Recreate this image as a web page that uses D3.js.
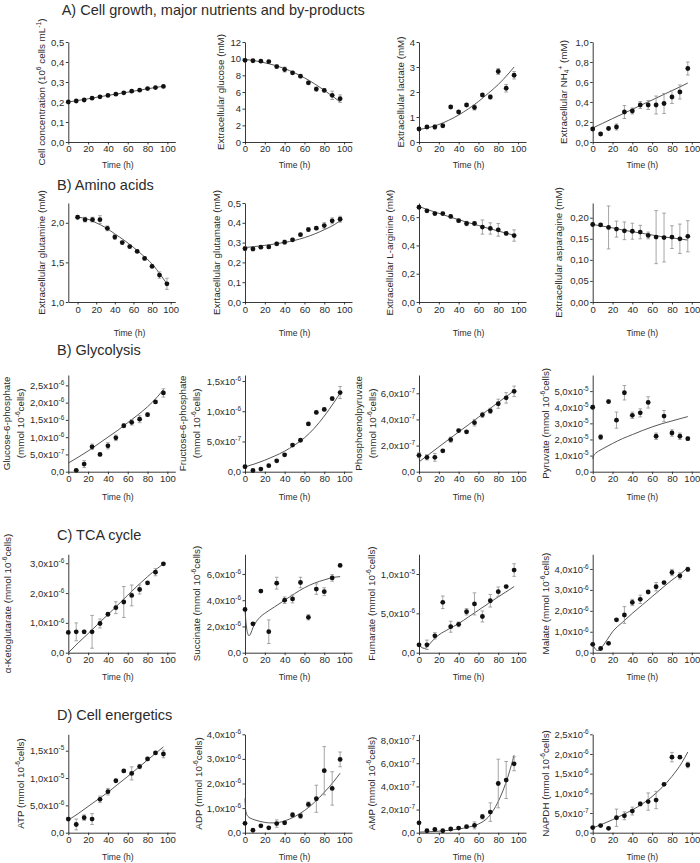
<!DOCTYPE html>
<html><head><meta charset="utf-8">
<script src="https://cdn.jsdelivr.net/npm/d3@7"></script>
<style>
body{margin:0;background:#fff;}
svg{display:block;font-family:"Liberation Sans",Arial,sans-serif;background:#fff;}
</style></head><body>
<svg id="c" width="700" height="863"></svg>
<script>
// ---------- data ----------
const time = [0,8,16,24,32,40,48,56,64,72,80,88,96];
const xTicks = [0,20,40,60,80,100];
const fitTime = [0,10,20,30,40,50,60,70,80,90,96];

// A) Cell growth, major nutrients and by-products
const cellConc = [0.200,0.205,0.210,0.219,0.226,0.233,0.239,0.246,0.254,0.259,0.267,0.272,0.278];
const cellConcErr = [0.003,0.003,0.003,0.003,0.003,0.003,0.003,0.003,0.003,0.003,0.003,0.003,0.003];
const cellConcFit = [0.200,0.208,0.216,0.225,0.233,0.241,0.249,0.258,0.266,0.274,0.279];
const cellTicks = [0,0.1,0.2,0.3,0.4,0.5];

const glucose = [9.8,9.75,9.7,9.65,9.05,8.7,8.3,7.9,7.1,6.35,6.2,5.6,5.2];
const glucoseErr = [0.15,0.1,0.1,0.1,0.2,0.3,0.2,0.2,0.2,0.25,0.2,0.5,0.45];
const glucoseFit = [9.9,9.75,9.5,9.2,8.8,8.3,7.7,7.0,6.2,5.35,4.8];
const glucoseTicks = [0,2,4,6,8,10,12];

const lactate = [0.52,0.6,0.6,0.65,1.4,1.2,1.48,1.38,1.88,1.8,2.82,2.15,2.67];
const lactateErr = [0.05,0.05,0.08,0.05,0.06,0.05,0.06,0.1,0.06,0.08,0.12,0.15,0.15];
const lactateFit = [0.5,0.58,0.7,0.87,1.08,1.33,1.62,1.95,2.3,2.72,3.0];
const lactateTicks = [0,1,2,3,4];

const nh4 = [0.13,0.08,0.135,0.15,0.30,0.31,0.37,0.37,0.37,0.385,0.45,0.50,0.735];
const nh4Err = [0.01,0.01,0.01,0.03,0.065,0.03,0.035,0.045,0.09,0.1,0.065,0.07,0.065];
const nh4Fit = [0.14,0.187,0.234,0.28,0.327,0.374,0.42,0.467,0.514,0.56,0.59];
const nh4Ticks = [0,0.2,0.4,0.6,0.8,1.0];

// B) Amino acids
const glutamine = [2.07,2.04,2.04,2.04,1.93,1.82,1.75,1.70,1.64,1.55,1.45,1.34,1.23];
const glutamineErr = [0.02,0.03,0.03,0.05,0.03,0.03,0.02,0.02,0.02,0.02,0.02,0.04,0.07];
const glutamineFit = [2.07,2.05,2.0,1.94,1.86,1.78,1.69,1.59,1.48,1.33,1.23];
const glutamineTicks = [1.0,1.5,2.0];

const glutamate = [0.27,0.268,0.277,0.278,0.294,0.302,0.314,0.340,0.366,0.373,0.386,0.41,0.418];
const glutamateErr = [0.01,0.01,0.008,0.008,0.008,0.01,0.008,0.006,0.01,0.008,0.015,0.015,0.015];
const glutamateFit = [0.275,0.28,0.286,0.293,0.301,0.311,0.325,0.343,0.365,0.39,0.41];
const glutamateTicks = [0,0.1,0.2,0.3,0.4,0.5];

const arginine = [0.67,0.645,0.625,0.625,0.605,0.575,0.555,0.555,0.53,0.52,0.51,0.485,0.47];
const arginineErr = [0.01,0.01,0.01,0.01,0.01,0.01,0.015,0.01,0.05,0.04,0.045,0.01,0.04];
const arginineFit = [0.675,0.65,0.627,0.604,0.582,0.561,0.541,0.521,0.502,0.483,0.472];
const arginineTicks = [0,0.2,0.4,0.6];

const asparagine = [0.184,0.183,0.177,0.173,0.169,0.168,0.166,0.158,0.154,0.153,0.154,0.150,0.156];
const asparagineErr = [0.003,0.003,0.051,0.019,0.021,0.019,0.016,0.008,0.063,0.058,0.027,0.035,0.037];
const asparagineFit = [0.184,0.18,0.176,0.171,0.167,0.163,0.159,0.155,0.152,0.149,0.147];
const asparagineTicks = [0,0.05,0.10,0.15,0.20];

// Glycolysis (mantissas, unit given per panel)
const g6p = [null,0.04,0.22,0.72,0.5,0.75,0.98,1.33,1.43,1.52,1.65,2.02,2.28];       // x1e-6
const g6pErr = [0,0.03,0.1,0.08,0.04,0.09,0.08,0.05,0.08,0.1,0.05,0.04,0.12];
const g6pFit = [0.25,0.42,0.6,0.8,1.0,1.2,1.42,1.64,1.88,2.17,2.38];
const g6pTicks = [0,0.5,1,1.5,2,2.5];

const f6p = [0.083,0.02,0.044,0.1,0.18,0.28,0.44,0.52,0.79,0.98,1.03,1.21,1.31];     // x1e-6
const f6pErr = [0.02,0.01,0.01,0.01,0.01,0.02,0.02,0.02,0.02,0.02,0.02,0.03,0.1];
const f6pFit = [0.08,0.13,0.19,0.26,0.34,0.44,0.56,0.72,0.92,1.15,1.3];
const f6pTicks = [0,0.5,1,1.5];

const pep = [1.25,1.1,1.1,1.6,2.45,3.15,3.05,3.75,4.35,4.65,5.2,5.65,6.15];          // x1e-7
const pepErr = [0.2,0.2,0.3,0.1,0.2,0.1,0.1,0.25,0.2,0.2,0.35,0.4,0.4];
const pepFit = [0.75,1.32,1.9,2.47,3.04,3.6,4.17,4.74,5.3,5.86,6.2];
const pepTicks = [0,2,4,6];

const pyruvate = [4.0,2.15,4.35,3.2,4.9,3.5,3.65,4.3,2.2,3.45,2.4,2.2,2.05];          // x1e-5
const pyruvateErr = [0.1,0.15,0.1,0.5,0.45,0.2,0.25,0.35,0.2,0.35,0.2,0.2,0.1];
const pyruvateFitTime = [0,1,3,6,10,20,30,40,50,60,70,80,90,96];
const pyruvateFit = [0.8,1.0,1.15,1.28,1.42,1.75,2.05,2.3,2.55,2.78,2.98,3.15,3.32,3.42];
const pyruvateTicks = [0,1,2,3,4,5];

// TCA cycle
const dipFitTime = [0,2,4,6,8,10,15,20,30,40,50,60,70,80,90,96];
const akg = [0.68,0.7,0.7,0.7,0.98,1.29,1.51,1.7,1.92,2.12,2.34,2.7,2.98];            // x1e-6
const akgErr = [0.02,0.3,0.05,0.55,0.15,0.05,0.2,0.52,0.35,0.15,0.03,0.12,0.03];
const akgFit = [0,0.33,0.64,0.96,1.28,1.6,1.93,2.25,2.55,2.83,2.98];
const akgTicks = [0,1,2,3];

const succinate = [3.3,2.2,4.7,1.6,5.3,4.0,4.1,5.35,2.7,4.85,4.65,5.7,6.65];          // x1e-6
const succinateErr = [0.05,0.1,0.1,0.9,0.45,0.25,0.3,0.4,0.2,0.4,0.3,0.25,0.05];
const succinateFitTime = [0,1,2,3,4,5,6,8,10,15,20,30,40,50,60,70,80,90,96];
const succinateFit = [3.3,2.3,1.7,1.4,1.3,1.35,1.5,1.9,2.2,2.7,3.0,3.5,4.0,4.5,4.95,5.3,5.55,5.75,5.8];
const succinateTicks = [0,2,4,6];

const fumarate = [1.0,1.0,2.15,6.4,3.3,3.6,5.2,6.2,4.6,6.6,7.75,8.4,10.5];             // x1e-6
const fumarateErr = [0.1,0.6,0.4,0.8,0.7,0.3,0.4,1.4,0.7,0.8,0.6,0.1,0.8];
const fumarateFit = [1.0,0.75,0.58,0.55,0.7,1.0,1.7,2.25,3.0,3.7,4.55,5.4,6.25,7.1,7.9,8.4];
const fumarateTicks = [0,5,10];

const malate = [0.4,0.2,0.45,1.57,1.8,2.4,2.55,2.9,3.15,3.35,3.83,3.67,3.98];          // x1e-6
const malateErr = [0.05,0.05,0.05,0.05,0.4,0.15,0.2,0.05,0.2,0.05,0.15,0.15,0.1];
const malateFit = [0.4,0.22,0.12,0.1,0.15,0.3,0.65,1.0,1.45,1.88,2.28,2.68,3.08,3.47,3.82,4.06];
const malateTicks = [0,1,2,3,4];

// Cell energetics
const atp = [2.5,1.5,2.75,2.5,6.1,7.5,9.5,11.3,10.85,12.1,13.5,14.6,14.4];            // x1e-6
const atpErr = [0.3,1.0,0.5,1.0,0.6,0.6,0.2,0.2,1.2,0.4,0.3,0.2,0.7];
const atpFit = [2.3,3.5,4.8,6.1,7.4,8.85,10.3,11.8,13.3,14.8,15.7];
const atpTicks = [0,5,10,15];

const adp = [0.38,0.1,0.28,0.2,0.37,0.4,0.72,0.68,1.15,1.38,2.52,1.8,2.98];            // x1e-6
const adpErr = [0.02,0.02,0.02,0.02,0.15,0.05,0.1,0.1,0.1,0.55,0.98,0.68,0.3];
const adpFitTime = [0,0.5,1,2,3,5,10,15,20,25,30,40,50,60,70,80,90,96];
const adpFit = [1.4,1.0,0.85,0.72,0.66,0.6,0.52,0.46,0.42,0.4,0.4,0.48,0.65,0.9,1.23,1.64,2.1,2.42];
const adpTicks = [0,1,2,3,4];

const amp = [0.85,0.17,0.28,0.17,0.32,0.4,0.52,0.63,1.38,1.78,4.25,4.55,5.95];         // x1e-7
const ampErr = [0.02,0.02,0.02,0.02,0.03,0.03,0.05,0.3,0.2,0.8,2.1,1.6,0.6];
const ampFit = [0.05,0.08,0.13,0.2,0.32,0.48,0.75,1.35,2.7,4.9,6.7];
const ampTicks = [0,2,4,6,8];

const napdh = [0.13,0.18,0.11,0.38,0.43,0.55,0.73,0.79,0.83,1.23,1.92,1.92,1.72];      // x1e-6
const napdhErr = [0.02,0.02,0.02,0.22,0.1,0.1,0.05,0.22,0.22,0.03,0.12,0.03,0.07];
const napdhFit = [0.12,0.22,0.33,0.45,0.58,0.73,0.92,1.15,1.43,1.78,2.05];
const napdhTicks = [0,0.5,1,1.5,2,2.5];

const sectionTitles = ["A) Cell growth, major nutrients and by-products","B) Amino acids","B) Glycolysis","C) TCA cycle","D) Cell energetics"];

// ---------- layout ----------
const colX = [68.3, 245, 419, 592.7];
const plotW = 107;
const rows = [
  {top:42,  bot:142,   pad:0.5, timeY:168},
  {top:203, bot:302,   pad:2,   timeY:336},
  {top:375, bot:471.7, pad:1.5, timeY:500},
  {top:554.3, bot:652.7, pad:1.5, timeY:680},
  {top:734.3, bot:832.7, pad:1.5, timeY:860}
];
const titlePos = [[61.7,14.5],[57,190],[57,355],[57,539.5],[57,719.5]];
const mm = "(mmol 10^{-6}cells)";

const panels = [
 {r:0,c:0,v:cellConc,e:cellConcErr,ft:fitTime,fv:cellConcFit,unit:1,dom:[0,0.5],ticks:cellTicks,fmt:'f1',label:["Cell concentration (10^{6} cells mL^{-1})"],lx:[45]},
 {r:0,c:1,v:glucose,e:glucoseErr,ft:fitTime,fv:glucoseFit,unit:1,dom:[0,12],ticks:glucoseTicks,fmt:'f0',label:["Extracellular glucose (mM)"],lx:[224]},
 {r:0,c:2,v:lactate,e:lactateErr,ft:fitTime,fv:lactateFit,unit:1,dom:[0,4],ticks:lactateTicks,fmt:'f0',label:["Extracellular lactate (mM)"],lx:[404]},
 {r:0,c:3,v:nh4,e:nh4Err,ft:fitTime,fv:nh4Fit,unit:1,dom:[0,1],ticks:nh4Ticks,fmt:'f1',label:["Extracellular NH_{4}^{+} (mM)"],lx:[566.5]},

 {r:1,c:0,v:glutamine,e:glutamineErr,ft:fitTime,fv:glutamineFit,unit:1,dom:[1,2.25],ticks:glutamineTicks,fmt:'f1',label:["Extracellular glutamine (mM)"],lx:[45],xdom:[-10,105]},
 {r:1,c:1,v:glutamate,e:glutamateErr,ft:fitTime,fv:glutamateFit,unit:1,dom:[0,0.5],ticks:glutamateTicks,fmt:'f1',label:["Exrtacellular glutamate (mM)"],lx:[220]},
 {r:1,c:2,v:arginine,e:arginineErr,ft:fitTime,fv:arginineFit,unit:1,dom:[0,0.7],ticks:arginineTicks,fmt:'f1',label:["Extracellular L-arginine (mM)"],lx:[393]},
 {r:1,c:3,v:asparagine,e:asparagineErr,ft:fitTime,fv:asparagineFit,unit:1,dom:[0,0.235],ticks:asparagineTicks,fmt:'f2',label:["Extracellular asparagine (mM)"],lx:[562]},

 {r:2,c:0,v:g6p,e:g6pErr,ft:fitTime,fv:g6pFit,unit:1e-6,dom:[0,2.8],ticks:g6pTicks,fmt:'sci',label:["Glucose-6-phosphate",mm],lx:[10,24]},
 {r:2,c:1,v:f6p,e:f6pErr,ft:fitTime,fv:f6pFit,unit:1e-6,dom:[0,1.6],ticks:f6pTicks,fmt:'sci',label:["Fructose-6-phosphate",mm],lx:[186,200]},
 {r:2,c:2,v:pep,e:pepErr,ft:fitTime,fv:pepFit,unit:1e-7,dom:[0,7.4],ticks:pepTicks,fmt:'sci',label:["Phosphoenolpyruvate",mm],lx:[362,376]},
 {r:2,c:3,v:pyruvate,e:pyruvateErr,ft:pyruvateFitTime,fv:pyruvateFit,unit:1e-5,dom:[0,6.0],ticks:pyruvateTicks,fmt:'sci',label:["Pyruvate "+mm],lx:[548.5]},

 {r:3,c:0,v:akg,e:akgErr,ft:fitTime,fv:akgFit,unit:1e-6,dom:[0,3.3],ticks:akgTicks,fmt:'sci',label:["\u03b1-Ketoglutarate "+mm],lx:[11]},
 {r:3,c:1,v:succinate,e:succinateErr,ft:succinateFitTime,fv:succinateFit,unit:1e-6,dom:[0,7.5],ticks:succinateTicks,fmt:'sci',label:["Succinate "+mm],lx:[200]},
 {r:3,c:2,v:fumarate,e:fumarateErr,ft:dipFitTime,fv:fumarateFit,unit:1e-6,dom:[0,12.5],ticks:fumarateTicks,fmt:'sci',label:["Fumarate "+mm],lx:[375]},
 {r:3,c:3,v:malate,e:malateErr,ft:dipFitTime,fv:malateFit,unit:1e-6,dom:[0,4.7],ticks:malateTicks,fmt:'sci',label:["Malate "+mm],lx:[548.5]},

 {r:4,c:0,v:atp,e:atpErr,ft:fitTime,fv:atpFit,unit:1e-6,dom:[0,18],ticks:atpTicks,fmt:'sci',label:["ATP "+mm],lx:[23.5]},
 {r:4,c:1,v:adp,e:adpErr,ft:adpFitTime,fv:adpFit,unit:1e-6,dom:[0,4],ticks:adpTicks,fmt:'sci',label:["ADP "+mm],lx:[202]},
 {r:4,c:2,v:amp,e:ampErr,ft:fitTime,fv:ampFit,unit:1e-7,dom:[0,8.5],ticks:ampTicks,fmt:'sci',label:["AMP "+mm],lx:[375]},
 {r:4,c:3,v:napdh,e:napdhErr,ft:fitTime,fv:napdhFit,unit:1e-6,dom:[0,2.5],ticks:napdhTicks,fmt:'sci',label:["NAPDH "+mm],lx:[548.5]}
];

// ---------- drawing ----------
const svg = d3.select('#c');
const INK = '#2b2b2b';

function rich(textSel, str, fs) {
  const parts = str.split(/(\^\{[^}]*\}|_\{[^}]*\})/).filter(s => s.length);
  let shift = 0;
  parts.forEach(p => {
    let target = 0, content = p, small = false;
    if (p.startsWith('^{')) { target = -0.4 * fs; content = p.slice(2, -1); small = true; }
    else if (p.startsWith('_{')) { target = 0.22 * fs; content = p.slice(2, -1); small = true; }
    const ts = textSel.append('tspan').text(content);
    if (target - shift !== 0) ts.attr('dy', (target - shift).toFixed(2));
    if (small) ts.attr('font-size', (fs * 0.68).toFixed(2));
    shift = target;
  });
}

function fmtTick(v, fmt, unit) {
  if (fmt === 'f0') return d3.format('d')(v);
  if (fmt === 'f1') return v.toFixed(1).replace('.', ',');
  if (fmt === 'f2') return v.toFixed(2).replace('.', ',');
  const real = v * unit;
  if (Math.abs(real) < 1e-30) return '0,0';
  const ex = Math.floor(Math.log10(real) + 1e-9);
  const mant = real / Math.pow(10, ex);
  return mant.toFixed(1).replace('.', ',') + 'x10^{' + ex + '}';
}

sectionTitles.forEach((t, i) => {
  svg.append('text').attr('x', titlePos[i][0]).attr('y', titlePos[i][1])
    .attr('font-size', 14.5).attr('fill', INK).text(t);
});

const TICKFS = 9.5, LABFS = 9.8, TIMEFS = 8.6;

panels.forEach(p => {
  const row = rows[p.r];
  const x0 = colX[p.c];
  const x = d3.scaleLinear().domain(p.xdom || [0, 108]).range([x0, x0 + plotW]);
  const y = d3.scaleLinear().domain(p.dom).range([row.bot, row.top]);
  const g = svg.append('g');

  // axes
  const ya = g.append('g').attr('transform', `translate(${x0},0)`)
    .call(d3.axisLeft(y).tickValues(p.ticks).tickSize(2.5).tickSizeOuter(0).tickPadding(1.5));
  ya.selectAll('.tick text').each(function(d) {
    const t = d3.select(this);
    t.text(null);
    rich(t, fmtTick(d, p.fmt, p.unit), TICKFS);
  });
  const xa = g.append('g').attr('transform', `translate(0,${row.bot})`)
    .call(d3.axisBottom(x).tickValues(xTicks).tickSize(2.5).tickSizeOuter(0).tickPadding(row.pad));
  [ya, xa].forEach(a => {
    a.attr('font-family', null).attr('font-size', TICKFS);
    a.selectAll('path,line').attr('stroke', '#222').attr('stroke-width', 0.9);
    a.selectAll('text').attr('fill', INK);
  });

  // fit curve
  const fitPts = p.ft.map((t, i) => [t, p.fv[i]]);
  g.append('path').datum(fitPts)
    .attr('d', d3.line().x(d => x(d[0])).y(d => y(d[1])).curve(d3.curveMonotoneX))
    .attr('fill', 'none').attr('stroke', '#444').attr('stroke-width', 0.9);

  // points with error bars
  const pts = time.map((t, i) => ({t, v: p.v[i], e: p.e[i]})).filter(d => d.v !== null);
  const eb = g.append('g').attr('stroke', '#909090').attr('stroke-width', 0.8);
  pts.filter(d => d.e > 0).forEach(d => {
    const xx = x(d.t), y1 = y(d.v - d.e), y2 = y(d.v + d.e);
    eb.append('line').attr('x1', xx).attr('x2', xx).attr('y1', y1).attr('y2', y2);
    eb.append('line').attr('x1', xx - 1.8).attr('x2', xx + 1.8).attr('y1', y1).attr('y2', y1);
    eb.append('line').attr('x1', xx - 1.8).attr('x2', xx + 1.8).attr('y1', y2).attr('y2', y2);
  });
  g.append('g').selectAll('circle').data(pts).join('circle')
    .attr('cx', d => x(d.t)).attr('cy', d => y(d.v)).attr('r', 2.4).attr('fill', '#111');

  // x title
  g.append('text').attr('x', x0 + (x(100) - x0) / 2 + (p.xdom ? 10 : 0)).attr('y', row.timeY)
    .attr('text-anchor', 'middle').attr('font-size', TIMEFS).attr('fill', INK).text('Time (h)');

  // y title(s)
  const yc = (row.top + row.bot) / 2;
  p.label.forEach((lab, i) => {
    const t = g.append('text').attr('transform', `translate(${p.lx[i]},${yc}) rotate(-90)`)
      .attr('text-anchor', 'middle').attr('font-size', LABFS).attr('fill', INK);
    rich(t, lab, LABFS);
  });
});
</script>
</body></html>
